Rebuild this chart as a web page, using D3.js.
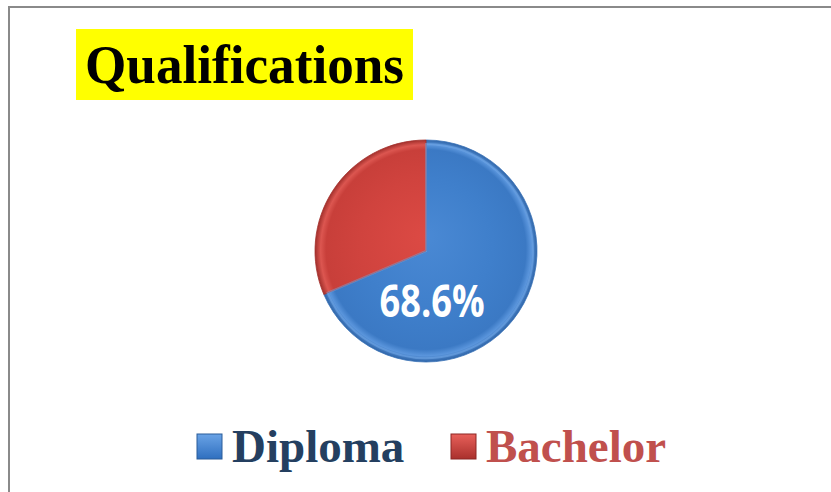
<!DOCTYPE html>
<html>
<head>
<meta charset="utf-8">
<script src="https://cdn.jsdelivr.net/npm/d3@7"></script>
<style>
html,body{margin:0;padding:0;background:#fff;}
svg{display:block;}
</style>
</head>
<body>
<div id="chart"></div>
<script>
const title = "Qualifications";
const categories = ["Diploma", "Bachelor"];
const values = [68.6, 31.4];
const labels = ["68.6%", ""];
const legendTextColors = ["#243f60", "#c0504d"];

const W = 831, H = 492;
const svg = d3.select("#chart").append("svg").attr("width", W).attr("height", H);
const defs = svg.append("defs");

// frame
svg.append("rect").attr("x", 9).attr("y", 7).attr("width", 900).attr("height", 600)
  .attr("fill", "none").attr("stroke", "#8a8a8a").attr("stroke-width", 2);

// title
svg.append("rect").attr("x", 76).attr("y", 29).attr("width", 337).attr("height", 71).attr("fill", "#ffff00");
svg.append("text").attr("x", 85).attr("y", 83)
  .attr("font-family", "'Liberation Serif','Times New Roman',serif").attr("font-weight", "bold")
  .attr("font-size", 54).attr("fill", "#000").attr("textLength", 319).attr("lengthAdjust", "spacingAndGlyphs")
  .text(title);

// pie
const cx = 426, cy = 251, R = 111;
const grads = [
  ["#4a89d4", "#3f7fcb", "#3b79c4", "#5a95dc", "#2d63a6"],
  ["#dc4a44", "#d0433e", "#c83f3a", "#dc5650", "#a3302c"]
];
grads.forEach((gc, i) => {
  const rg = defs.append("radialGradient").attr("id", "pg" + i)
    .attr("gradientUnits", "userSpaceOnUse").attr("cx", 0).attr("cy", 0).attr("r", R)
    .attr("fx", 0).attr("fy", -15);
  [[0, gc[0]], [0.6, gc[1]], [0.9, gc[2]], [0.95, gc[3]], [1, gc[4]]].forEach(([o, c]) =>
    rg.append("stop").attr("offset", o).attr("stop-color", c));
});

const pie = d3.pie().sort(null).value(d => d)(values);
const arc = d3.arc().innerRadius(0).outerRadius(R);
const g = svg.append("g").attr("transform", `translate(${cx},${cy})`);
g.selectAll("path.slice").data(pie).join("path").attr("class", "slice")
  .attr("d", arc).attr("fill", (d, i) => `url(#pg${i})`)
  .attr("stroke", (d, i) => i === 0 ? "#3a72b8" : "#a3302c").attr("stroke-width", 0.8);
// bevel highlight along blue slice edges
g.selectAll("path.bevel").data([pie[0]]).join("path").attr("class", "bevel")
  .attr("d", d3.arc().innerRadius(0).outerRadius(R - 4))
  .attr("fill", "none").attr("stroke", "#7ab0ee").attr("stroke-width", 2).attr("opacity", 0.45);

g.selectAll("text.lbl").data(pie).join("text").attr("class", "lbl")
  .attr("x", 6).attr("y", 66)
  .attr("text-anchor", "middle")
  .attr("font-family", "'Open Sans','Noto Sans',sans-serif").attr("font-weight", "bold")
  .attr("font-size", 45).attr("fill", "#fff")
  .attr("textLength", (d, i) => labels[i] ? 105 : null).attr("lengthAdjust", "spacingAndGlyphs")
  .text((d, i) => labels[i]);

// legend
const lgPos = [[197, 232], [451, 486]];
const sqGrads = [["#6aa3e6", "#2f6fbf"], ["#e8605a", "#a9302c"]];
sqGrads.forEach((s, i) => {
  const lg = defs.append("linearGradient").attr("id", "sg" + i).attr("x1", 0).attr("y1", 0).attr("x2", 0).attr("y2", 1);
  lg.append("stop").attr("offset", 0).attr("stop-color", s[0]);
  lg.append("stop").attr("offset", 1).attr("stop-color", s[1]);
});
const legend = svg.append("g");
categories.forEach((c, i) => {
  legend.append("rect").attr("x", lgPos[i][0]).attr("y", 434).attr("width", 25).attr("height", 25)
    .attr("fill", `url(#sg${i})`).attr("stroke", i === 0 ? "#2a5c9a" : "#8c2724").attr("stroke-width", 1);
  legend.append("text").attr("x", lgPos[i][1]).attr("y", 462)
    .attr("font-family", "'Liberation Serif','Times New Roman',serif").attr("font-weight", "bold")
    .attr("font-size", 47).attr("fill", legendTextColors[i]).text(c);
});
</script>
</body>
</html>
